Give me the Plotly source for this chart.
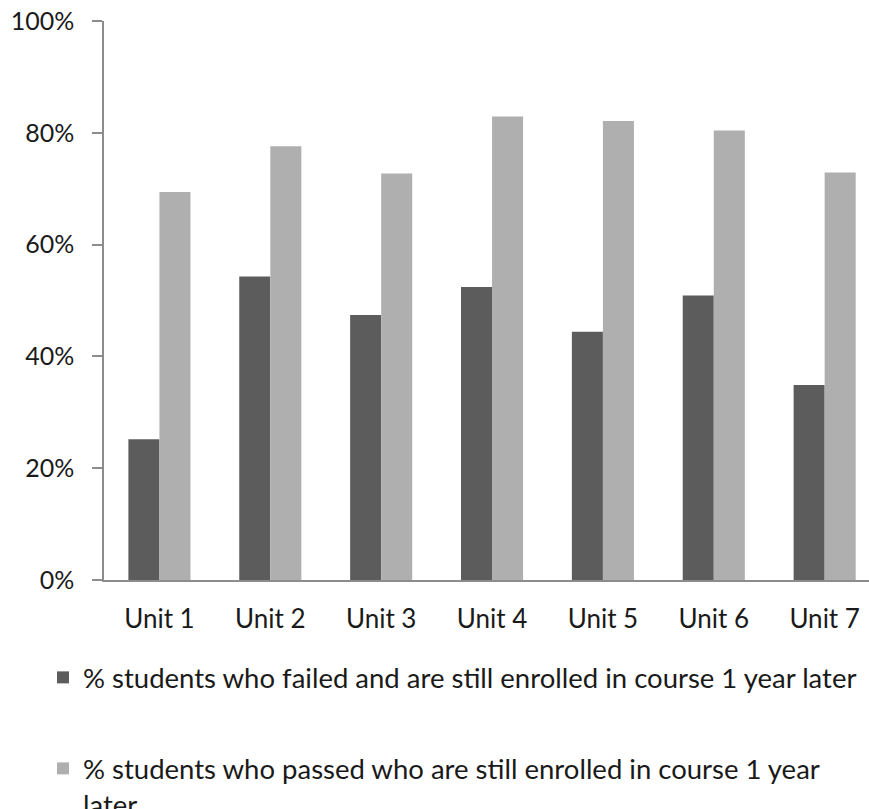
import plotly.graph_objects as go

# Enrollment one year later, by unit
units = ["Unit 1", "Unit 2", "Unit 3", "Unit 4", "Unit 5", "Unit 6", "Unit 7"]
failed_still_enrolled = [25.2, 54.3, 47.4, 52.4, 44.4, 50.9, 34.9]
passed_still_enrolled = [69.4, 77.6, 72.7, 82.9, 82.1, 80.4, 72.9]

failed_name = "% students who failed and are still enrolled in course 1 year later"
passed_name = "% students who passed who are still enrolled in course 1 year<br>later"

y_ticks = [0, 20, 40, 60, 80, 100]
y_tick_labels = ["0%", "20%", "40%", "60%", "80%", "100%"]

FONT = "Lato, 'Open Sans', sans-serif"
W, H = 869, 809

fig = go.Figure()
fig.add_trace(go.Bar(
    x=units, y=failed_still_enrolled, name=failed_name,
    marker=dict(color="#5c5c5c", line=dict(width=0)),
    legend="legend",
))
fig.add_trace(go.Bar(
    x=units, y=passed_still_enrolled, name=passed_name,
    marker=dict(color="#afafaf", line=dict(width=0)),
    legend="legend2",
))

legend_common = dict(
    xref="container", yref="container",
    xanchor="left", yanchor="top",
    font=dict(family=FONT, size=27.5, color="#1a1a1a"),
    bgcolor="rgba(0,0,0,0)", borderwidth=0,
    itemclick=False, itemdoubleclick=False,
    valign="top",
)

fig.update_layout(
    width=W, height=H,
    margin=dict(l=104, r=0, t=21, b=229, autoexpand=False),
    paper_bgcolor="white", plot_bgcolor="white",
    barmode="group", bargap=0.44, bargroupgap=0,
    font=dict(family=FONT, size=25, color="#1a1a1a"),
    showlegend=True,
    legend=dict(x=43 / W, y=1 - 653 / H, **legend_common),
    legend2=dict(x=43 / W, y=1 - 744 / H, **legend_common),
    xaxis=dict(
        type="category",
        range=[-0.5, 6.4],
        showline=True, linecolor="#8c8c8c", linewidth=1.5,
        ticks="", showgrid=False, zeroline=False,
        tickangle=0,
        tickfont=dict(family=FONT, size=26, color="#1a1a1a"),
        ticklabelstandoff=15,
    ),
    yaxis=dict(
        range=[0, 100],
        tickvals=y_ticks, ticktext=y_tick_labels,
        showline=True, linecolor="#8c8c8c", linewidth=1.5,
        ticks="outside", ticklen=10, tickcolor="#8c8c8c", tickwidth=1.5,
        showgrid=False, zeroline=False,
        tickfont=dict(family=FONT, size=25, color="#1a1a1a"),
        ticklabelstandoff=13,
    ),
)

fig.write_html("out.html")
